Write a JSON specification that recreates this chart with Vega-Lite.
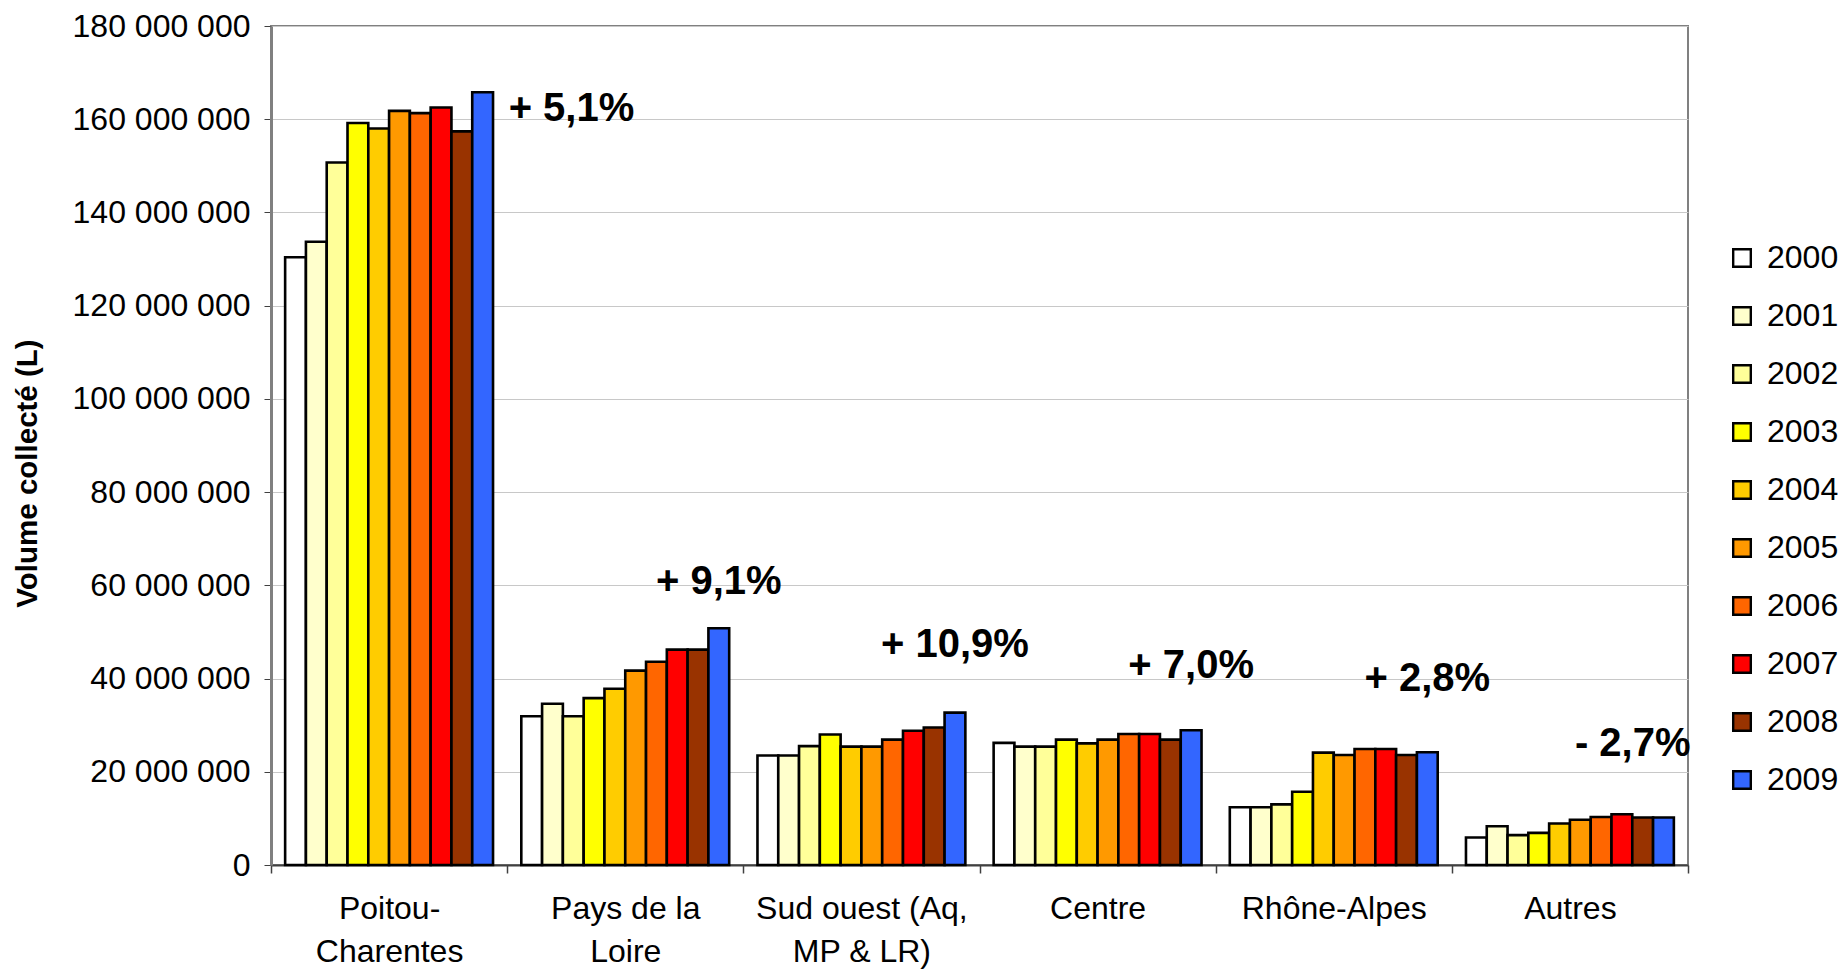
{
  "$schema": "https://vega.github.io/schema/vega-lite/v6.json",
  "width": 1417,
  "height": 839,
  "autosize": {"type": "none"},
  "padding": {"left": 271, "top": 26, "right": 152, "bottom": 108},
  "background": "white",
  "config": {
    "font": "Liberation Sans",
    "view": {"stroke": "#808080", "strokeWidth": 2}
  },
  "datasets": {
    "vol": [
      {"region": "Poitou-Charentes", "year": "2000", "volume": 130400000},
      {"region": "Poitou-Charentes", "year": "2001", "volume": 133700000},
      {"region": "Poitou-Charentes", "year": "2002", "volume": 150700000},
      {"region": "Poitou-Charentes", "year": "2003", "volume": 159200000},
      {"region": "Poitou-Charentes", "year": "2004", "volume": 158000000},
      {"region": "Poitou-Charentes", "year": "2005", "volume": 161800000},
      {"region": "Poitou-Charentes", "year": "2006", "volume": 161300000},
      {"region": "Poitou-Charentes", "year": "2007", "volume": 162500000},
      {"region": "Poitou-Charentes", "year": "2008", "volume": 157400000},
      {"region": "Poitou-Charentes", "year": "2009", "volume": 165800000},
      {"region": "Pays de la Loire", "year": "2000", "volume": 31900000},
      {"region": "Pays de la Loire", "year": "2001", "volume": 34600000},
      {"region": "Pays de la Loire", "year": "2002", "volume": 31900000},
      {"region": "Pays de la Loire", "year": "2003", "volume": 35800000},
      {"region": "Pays de la Loire", "year": "2004", "volume": 37800000},
      {"region": "Pays de la Loire", "year": "2005", "volume": 41700000},
      {"region": "Pays de la Loire", "year": "2006", "volume": 43600000},
      {"region": "Pays de la Loire", "year": "2007", "volume": 46200000},
      {"region": "Pays de la Loire", "year": "2008", "volume": 46200000},
      {"region": "Pays de la Loire", "year": "2009", "volume": 50800000},
      {"region": "Sud ouest (Aq, MP & LR)", "year": "2000", "volume": 23500000},
      {"region": "Sud ouest (Aq, MP & LR)", "year": "2001", "volume": 23500000},
      {"region": "Sud ouest (Aq, MP & LR)", "year": "2002", "volume": 25500000},
      {"region": "Sud ouest (Aq, MP & LR)", "year": "2003", "volume": 28000000},
      {"region": "Sud ouest (Aq, MP & LR)", "year": "2004", "volume": 25400000},
      {"region": "Sud ouest (Aq, MP & LR)", "year": "2005", "volume": 25400000},
      {"region": "Sud ouest (Aq, MP & LR)", "year": "2006", "volume": 26900000},
      {"region": "Sud ouest (Aq, MP & LR)", "year": "2007", "volume": 28800000},
      {"region": "Sud ouest (Aq, MP & LR)", "year": "2008", "volume": 29500000},
      {"region": "Sud ouest (Aq, MP & LR)", "year": "2009", "volume": 32700000},
      {"region": "Centre", "year": "2000", "volume": 26200000},
      {"region": "Centre", "year": "2001", "volume": 25400000},
      {"region": "Centre", "year": "2002", "volume": 25400000},
      {"region": "Centre", "year": "2003", "volume": 26900000},
      {"region": "Centre", "year": "2004", "volume": 26100000},
      {"region": "Centre", "year": "2005", "volume": 26900000},
      {"region": "Centre", "year": "2006", "volume": 28100000},
      {"region": "Centre", "year": "2007", "volume": 28100000},
      {"region": "Centre", "year": "2008", "volume": 26900000},
      {"region": "Centre", "year": "2009", "volume": 28900000},
      {"region": "Rhône-Alpes", "year": "2000", "volume": 12400000},
      {"region": "Rhône-Alpes", "year": "2001", "volume": 12400000},
      {"region": "Rhône-Alpes", "year": "2002", "volume": 13000000},
      {"region": "Rhône-Alpes", "year": "2003", "volume": 15700000},
      {"region": "Rhône-Alpes", "year": "2004", "volume": 24100000},
      {"region": "Rhône-Alpes", "year": "2005", "volume": 23600000},
      {"region": "Rhône-Alpes", "year": "2006", "volume": 24900000},
      {"region": "Rhône-Alpes", "year": "2007", "volume": 24900000},
      {"region": "Rhône-Alpes", "year": "2008", "volume": 23600000},
      {"region": "Rhône-Alpes", "year": "2009", "volume": 24200000},
      {"region": "Autres", "year": "2000", "volume": 5900000},
      {"region": "Autres", "year": "2001", "volume": 8300000},
      {"region": "Autres", "year": "2002", "volume": 6400000},
      {"region": "Autres", "year": "2003", "volume": 6900000},
      {"region": "Autres", "year": "2004", "volume": 8900000},
      {"region": "Autres", "year": "2005", "volume": 9700000},
      {"region": "Autres", "year": "2006", "volume": 10300000},
      {"region": "Autres", "year": "2007", "volume": 10900000},
      {"region": "Autres", "year": "2008", "volume": 10200000},
      {"region": "Autres", "year": "2009", "volume": 10200000}
    ],
    "notes": [
      {"region": "Poitou-Charentes", "year": "2009", "value": 162100000, "label": "+ 5,1%", "side": "right"},
      {"region": "Pays de la Loire", "year": "2009", "value": 60700000, "label": "+ 9,1%", "side": "above"},
      {"region": "Sud ouest (Aq, MP & LR)", "year": "2009", "value": 47100000, "label": "+ 10,9%", "side": "above"},
      {"region": "Centre", "year": "2009", "value": 42800000, "label": "+ 7,0%", "side": "above"},
      {"region": "Rhône-Alpes", "year": "2009", "value": 39800000, "label": "+ 2,8%", "side": "above"},
      {"region": "Autres", "year": "2008", "value": 25900000, "label": "- 2,7%", "side": "aboveLeft"}
    ]
  },
  "layer": [
    {
      "data": {"name": "vol"},
      "mark": {"type": "bar", "stroke": "black", "strokeWidth": 2.6},
      "encoding": {
        "x": {
          "field": "region",
          "type": "nominal",
          "scale": {
            "domain": ["Poitou-Charentes", "Pays de la Loire", "Sud ouest (Aq, MP & LR)", "Centre", "Rhône-Alpes", "Autres"],
            "paddingInner": 0,
            "paddingOuter": 0
          },
          "axis": {
            "title": null,
            "tickBand": "extent",
            "labelAngle": 0,
            "labelFontSize": 32,
            "labelColor": "black",
            "labelPadding": 20,
            "labelLineHeight": 43,
            "labelBaseline": "top",
            "labelLimit": 0,
            "tickSize": 8,
            "tickColor": "#404040",
            "tickWidth": 1.5,
            "domainColor": "#404040",
            "domainWidth": 2,
            "grid": false,
            "labelExpr": "datum.value == 'Poitou-Charentes' ? ['Poitou-', 'Charentes'] : datum.value == 'Pays de la Loire' ? ['Pays de la', 'Loire'] : datum.value == 'Sud ouest (Aq, MP & LR)' ? ['Sud ouest (Aq,', 'MP & LR)'] : datum.value"
          }
        },
        "xOffset": {
          "field": "year",
          "type": "nominal",
          "scale": {"domain": ["2000", "2001", "2002", "2003", "2004", "2005", "2006", "2007", "2008", "2009"], "paddingInner": 0, "paddingOuter": 0.68}
        },
        "y": {
          "field": "volume",
          "type": "quantitative",
          "scale": {"domain": [0, 180000000], "nice": false},
          "axis": {
            "title": "Volume collecté (L)",
            "titleFontSize": 29.5,
            "titleFontWeight": "bold",
            "titleColor": "black",
            "titleAngle": -90,
            "titleX": -244,
            "titleY": 447,
            "titleAlign": "center",
            "titleBaseline": "middle",
            "values": [0, 20000000, 40000000, 60000000, 80000000, 100000000, 120000000, 140000000, 160000000, 180000000],
            "labelExpr": "replace(format(datum.value, ','), /,/g, ' ')",
            "labelFontSize": 32,
            "labelColor": "black",
            "labelPadding": 14,
            "labelLimit": 0,
            "tickSize": 7,
            "tickColor": "#404040",
            "domainColor": "#808080",
            "domainWidth": 3,
            "grid": true,
            "gridColor": "#c8c8c8",
            "gridWidth": 1.2
          }
        },
        "color": {
          "field": "year",
          "type": "nominal",
          "scale": {
            "domain": ["2000", "2001", "2002", "2003", "2004", "2005", "2006", "2007", "2008", "2009"],
            "range": ["#FFFFFF", "#FFFFCC", "#FFFF99", "#FFFF00", "#FFCC00", "#FF9900", "#FF6600", "#FF0000", "#993300", "#3366FF"]
          },
          "legend": {
            "title": null,
            "orient": "none",
            "legendX": 1455,
            "legendY": 216,
            "padding": 0,
            "symbolType": "square",
            "symbolSize": 310,
            "symbolStrokeColor": "black",
            "symbolStrokeWidth": 2.4,
            "symbolOpacity": 1,
            "labelFontSize": 32,
            "labelColor": "black",
            "labelOffset": 9,
            "labelLimit": 0,
            "rowPadding": 26
          }
        }
      }
    },
    {
      "data": {"name": "notes"},
      "transform": [{"filter": "datum.side == 'above'"}],
      "mark": {"type": "text", "fontSize": 40, "fontWeight": "bold", "align": "center", "baseline": "middle", "color": "black"},
      "encoding": {
        "x": {"field": "region", "type": "nominal"},
        "xOffset": {"field": "year", "type": "nominal"},
        "y": {"field": "value", "type": "quantitative"},
        "text": {"field": "label"}
      }
    },
    {
      "data": {"name": "notes"},
      "transform": [{"filter": "datum.side == 'aboveLeft'"}],
      "mark": {"type": "text", "fontSize": 40, "fontWeight": "bold", "align": "center", "baseline": "middle", "dx": -10, "color": "black"},
      "encoding": {
        "x": {"field": "region", "type": "nominal"},
        "xOffset": {"field": "year", "type": "nominal"},
        "y": {"field": "value", "type": "quantitative"},
        "text": {"field": "label"}
      }
    },
    {
      "data": {"name": "notes"},
      "transform": [{"filter": "datum.side == 'right'"}],
      "mark": {"type": "text", "fontSize": 40, "fontWeight": "bold", "align": "left", "baseline": "middle", "dx": 26, "color": "black"},
      "encoding": {
        "x": {"field": "region", "type": "nominal"},
        "xOffset": {"field": "year", "type": "nominal"},
        "y": {"field": "value", "type": "quantitative"},
        "text": {"field": "label"}
      }
    }
  ]
}
